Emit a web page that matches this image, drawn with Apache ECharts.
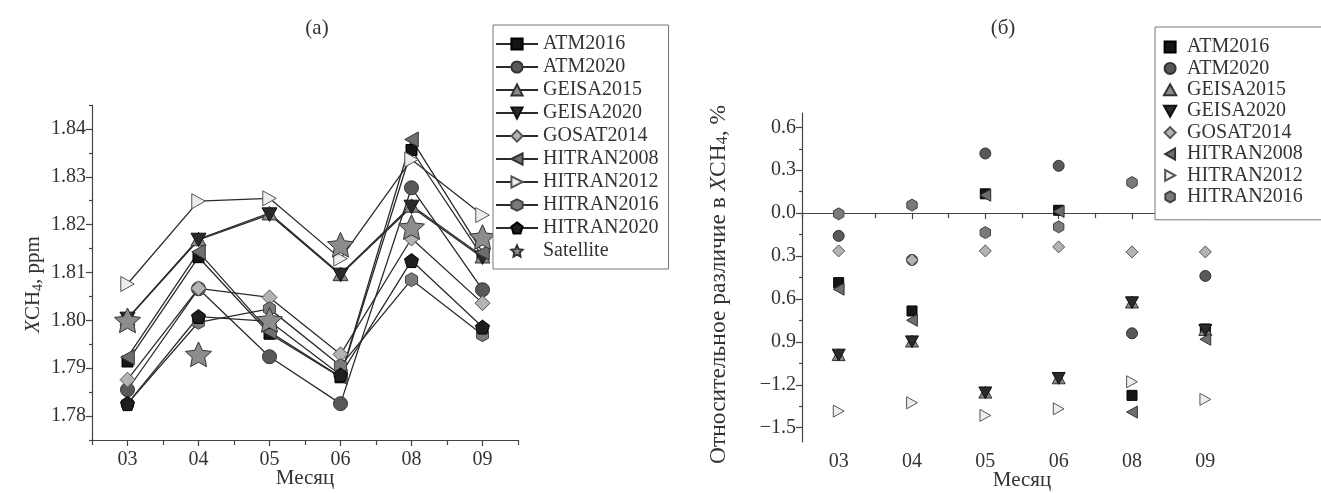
<!DOCTYPE html>
<html><head><meta charset="utf-8">
<script src="https://cdn.jsdelivr.net/npm/echarts@6/dist/echarts.min.js"></script>
<style>html,body{margin:0;padding:0;background:#fff}#c{width:1321px;height:493px}</style>
</head><body><div id="c"></div>
<script>
// ---------- data ----------
const months = ['03', '04', '05', '06', '08', '09'];

// (a) XCH4, ppm
const xAtm2016    = [1.7914, 1.8132, 1.7972, 1.7881, 1.8356, 1.8133];
const xAtm2020    = [1.7855, 1.8066, 1.7924, 1.7826, 1.8277, 1.8064];
const xGeisa2015  = [1.8004, 1.8170, 1.8224, 1.8097, 1.8240, 1.8134];
const xGeisa2020  = [1.8003, 1.8168, 1.8221, 1.8095, 1.8237, 1.8131];
const xGosat2014  = [1.7876, 1.8067, 1.8048, 1.7929, 1.8171, 1.8036];
const xHitran2008 = [1.7923, 1.8143, 1.7976, 1.7882, 1.8378, 1.8142];
const xHitran2012 = [1.8076, 1.8249, 1.8255, 1.8129, 1.8336, 1.8220];
const xHitran2016 = [1.7826, 1.7996, 1.8024, 1.7905, 1.8085, 1.7970];
const xHitran2020 = [1.7826, 1.8008, 1.7998, 1.7886, 1.8125, 1.7986];
const xSatellite  = [1.8000, 1.7929, 1.8001, 1.8158, 1.8195, 1.8174];

// (б) relative difference, %
const dAtm2016    = [-0.486, -0.684, 0.135, 0.020, -1.274, -0.810];
const dAtm2020    = [-0.159, -0.327, 0.417, 0.331, -0.840, -0.439];
const dGeisa2015  = [-0.990, -0.895, -1.252, -1.152, -0.622, -0.815];
const dGeisa2020  = [-0.992, -0.899, -1.256, -1.155, -0.626, -0.819];
const dGosat2014  = [-0.264, -0.327, -0.264, -0.236, -0.271, -0.271];
const dHitran2008 = [-0.532, -0.749, 0.125, 0.012, -1.391, -0.882];
const dHitran2012 = [-1.384, -1.326, -1.414, -1.368, -1.179, -1.302];
const dHitran2016 = [-0.005, 0.056, -0.136, -0.096, 0.214, 0.090];

const leftYTicks  = [1.78, 1.79, 1.80, 1.81, 1.82, 1.83, 1.84];
const leftYMinor  = [1.775, 1.785, 1.795, 1.805, 1.815, 1.825, 1.835, 1.845];
const rightYTicks = [-1.5, -1.2, -0.9, -0.6, -0.3, 0.0, 0.3, 0.6];
const rightYLabels = ['\u22121.5', '\u22121.2', '0.9', '0.6', '0.3', '0.0', '0.3', '0.6'];
const rightYMinor = [-1.35, -1.05, -0.75, -0.45, -0.15, 0.15, 0.45];

// ---------- styling ----------
const FONT = 'Liberation Serif';
const TXT = '#333';
const SYM = {
  square: 'path://M0,0H10V10H0Z',
  circle: 'circle',
  triUp: 'path://M5,0L10,9L0,9Z',
  triDown: 'path://M0,0L10,0L5,9Z',
  diamond: 'path://M5,0L10,5L5,10L0,5Z',
  triLeft: 'path://M0,5L9,0L9,10Z',
  triRight: 'path://M9,5L0,0L0,10Z',
  hex: 'path://M5,0L9.33,2.5L9.33,7.5L5,10L0.67,7.5L0.67,2.5Z',
  pent: 'path://M5,0L10,3.8L8.1,10L1.9,10L0,3.8Z',
  star: 'path://M5,0L6.41,3.06L9.76,3.45L7.28,5.74L7.94,9.05L5,7.4L2.06,9.05L2.72,5.74L0.24,3.45L3.59,3.06Z'
};

const specs = [
  { name: 'ATM2016',    left: xAtm2016,    right: dAtm2016,    sym: 'square',   fill: '#151515', stroke: '#000', sL: 11, sR: 10 },
  { name: 'ATM2020',    left: xAtm2020,    right: dAtm2020,    sym: 'circle',   fill: '#585858', stroke: '#333', sL: 14, sR: 11 },
  { name: 'GEISA2015',  left: xGeisa2015,  right: dGeisa2015,  sym: 'triUp',    fill: '#8a8a8a', stroke: '#333', sL: 15, sR: 13 },
  { name: 'GEISA2020',  left: xGeisa2020,  right: dGeisa2020,  sym: 'triDown',  fill: '#2a2a2a', stroke: '#111', sL: 15, sR: 13 },
  { name: 'GOSAT2014',  left: xGosat2014,  right: dGosat2014,  sym: 'diamond',  fill: '#b3b3b3', stroke: '#555', sL: 15, sR: 12 },
  { name: 'HITRAN2008', left: xHitran2008, right: dHitran2008, sym: 'triLeft',  fill: '#6e6e6e', stroke: '#333', sL: 15, sR: 12 },
  { name: 'HITRAN2012', left: xHitran2012, right: dHitran2012, sym: 'triRight', fill: '#ededed', stroke: '#555', sL: 15, sR: 12 },
  { name: 'HITRAN2016', left: xHitran2016, right: dHitran2016, sym: 'hex',      fill: '#7a7a7a', stroke: '#444', sL: 14, sR: 12 },
  { name: 'HITRAN2020', left: xHitran2020, right: null,        sym: 'pent',     fill: '#1e1e1e', stroke: '#000', sL: 14, sR: 12 },
  { name: 'Satellite',  left: xSatellite,  right: null,        sym: 'star',     fill: '#8c8c8c', stroke: '#333', sL: 26, sR: 12 }
];

const series = [];
specs.forEach(s => {
  const isSat = s.name === 'Satellite';
  series.push({
    type: 'line', name: s.name, xAxisIndex: 0, yAxisIndex: 0,
    data: s.left, symbol: SYM[s.sym], symbolSize: s.sL, symbolKeepAspect: true,
    showSymbol: true, showAllSymbol: true,
    lineStyle: isSat ? { width: 0, opacity: 0 } : { color: '#2b2b2b', width: 1.3 },
    itemStyle: { color: s.fill, borderColor: s.stroke, borderWidth: 1 },
    emphasis: { disabled: true }, z: 2
  });
});
specs.forEach(s => {
  if (!s.right) return;
  series.push({
    type: 'scatter', name: s.name, xAxisIndex: 2, yAxisIndex: 2,
    data: s.right, symbol: SYM[s.sym], symbolSize: s.sR, symbolKeepAspect: true,
    itemStyle: { color: s.fill, borderColor: s.stroke, borderWidth: 1, opacity: 1 },
    emphasis: { disabled: true }, z: 2
  });
});

function xAxes(grid) {
  const common = { gridIndex: grid, type: 'category', data: months, boundaryGap: true, position: 'bottom' };
  return [
    Object.assign({}, common, {
      axisLine: { show: true, lineStyle: { color: '#444', width: 1.2 } },
      axisTick: { show: true, alignWithLabel: true, interval: 0, length: 6, lineStyle: { color: '#444', width: 1.2 } },
      axisLabel: { interval: 0, fontFamily: FONT, fontSize: 20, color: TXT, margin: 10 },
      splitLine: { show: false },
      name: 'Месяц', nameLocation: 'middle', nameGap: 28, nameMoveOverlap: false,
      nameTextStyle: { fontFamily: FONT, fontSize: 21, color: TXT }
    }),
    Object.assign({}, common, {
      axisLine: { show: false },
      axisTick: { show: true, alignWithLabel: false, interval: 0, length: 5, lineStyle: { color: '#444', width: 1.2 } },
      axisLabel: { show: false }, splitLine: { show: false }
    })
  ];
}

function yNameRich(fs) {
  return {
    i: { fontFamily: FONT, fontSize: fs, fontStyle: 'italic', color: TXT },
    n: { fontFamily: FONT, fontSize: fs, color: TXT },
    s: { fontFamily: FONT, fontSize: Math.round(fs * 0.66), color: TXT, padding: [9, 0, 0, 0] }
  };
}

const gridCommon = { outerBoundsMode: 'none', containLabel: false };

const option = {
  animation: false,
  backgroundColor: '#fff',
  grid: [
    Object.assign({ left: 92, top: 105, width: 426, height: 335 }, gridCommon),
    Object.assign({ left: 802, top: 113, width: 440, height: 329 }, gridCommon)
  ],
  xAxis: [].concat(xAxes(0), xAxes(1)),
  yAxis: [
    {
      gridIndex: 0, type: 'value', min: 1.775, max: 1.845, position: 'left',
      axisLine: { show: true, lineStyle: { color: '#444', width: 1.2 } },
      axisTick: { show: true, customValues: leftYTicks, length: 6, lineStyle: { color: '#444', width: 1.2 } },
      axisLabel: { customValues: leftYTicks, formatter: v => v.toFixed(2), fontFamily: FONT, fontSize: 20, color: TXT, margin: 6 },
      splitLine: { show: false },
      name: '{i|X}{n|CH}{s|4}{n|, ppm}', nameLocation: 'middle', nameGap: 47,
      nameTextStyle: { fontFamily: FONT, fontSize: 21, color: TXT, rich: yNameRich(21), padding: [0, 24, 0, 0] }
    },
    {
      gridIndex: 0, type: 'value', min: 1.775, max: 1.845, position: 'left',
      axisLine: { show: false },
      axisTick: { show: true, customValues: leftYMinor, length: 3, lineStyle: { color: '#444', width: 1.2 } },
      axisLabel: { show: false }, splitLine: { show: false }
    },
    {
      gridIndex: 1, type: 'value', min: -1.6, max: 0.7, position: 'left',
      axisLine: { show: true, lineStyle: { color: '#444', width: 1.2 } },
      axisTick: { show: true, customValues: rightYTicks, length: 6, lineStyle: { color: '#444', width: 1.2 } },
      axisLabel: {
        customValues: rightYTicks,
        formatter: v => rightYLabels[rightYTicks.findIndex(t => Math.abs(t - v) < 1e-6)],
        fontFamily: FONT, fontSize: 20, color: TXT, margin: 6
      },
      splitLine: { show: false },
      name: '{n|Относительное различие в }{i|X}{n|CH}{s|4}{n|, %}', nameLocation: 'middle', nameGap: 71,
      nameTextStyle: { fontFamily: FONT, fontSize: 23.5, color: TXT, rich: yNameRich(23.5), padding: [0, 14, 0, 0] }
    },
    {
      gridIndex: 1, type: 'value', min: -1.6, max: 0.7, position: 'left',
      axisLine: { show: false },
      axisTick: { show: true, customValues: rightYMinor, length: 3, lineStyle: { color: '#444', width: 1.2 } },
      axisLabel: { show: false }, splitLine: { show: false }
    }
  ],
  legend: [
    {
      left: 493, top: 25, orient: 'vertical', selectedMode: false,
      data: specs.map(s => s.name),
      itemWidth: 42, itemHeight: 14, itemGap: 3, itemTextGap: 5,
      padding: [9, 10, 8, 2],
      borderColor: '#777', borderWidth: 1, backgroundColor: '#fff',
      textStyle: { fontFamily: FONT, fontSize: 20, color: TXT },
      z: 10
    },
    {
      left: 1155, top: 27, orient: 'vertical', selectedMode: false,
      data: specs.filter(s => s.right).map(s => ({ name: s.name, icon: SYM[s.sym] })),
      itemWidth: 24, itemHeight: 11, itemGap: 1.4, itemTextGap: 10,
      padding: [10, 20, 13, 8],
      borderColor: '#777', borderWidth: 1, backgroundColor: '#fff',
      textStyle: { fontFamily: FONT, fontSize: 20, color: TXT },
      z: 10
    }
  ],
  graphic: [
    { type: 'text', x: 317, y: 28, style: { text: '(a)', font: '21px "Liberation Serif"', fill: TXT, textAlign: 'center', textVerticalAlign: 'middle' } },
    { type: 'text', x: 1003, y: 28, style: { text: '(б)', font: '21px "Liberation Serif"', fill: TXT, textAlign: 'center', textVerticalAlign: 'middle' } }
  ],
  series: series
};

const chart = echarts.init(document.getElementById('c'), null, { renderer: 'canvas' });
chart.setOption(option);
</script>
</body></html>
